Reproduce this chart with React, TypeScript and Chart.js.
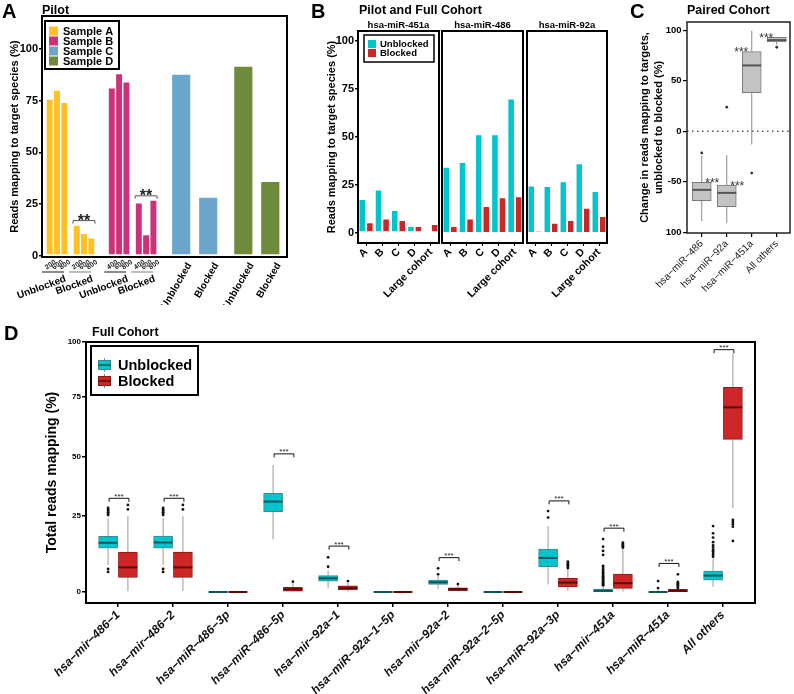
import React, { useEffect, useRef } from 'react';
import { Chart, registerables, LinearScale } from 'chart.js';

Chart.register(...registerables);

const FONT = "'Liberation Sans', Arial, Helvetica, sans-serif";
Chart.defaults.font.family = FONT;
Chart.defaults.color = '#000';

// ---------------- Panel A data (Pilot) ----------------
const pilotSamples = ['Sample A', 'Sample B', 'Sample C', 'Sample D'];
const pilotConditions = ['Unblocked', 'Blocked'];
const pilotDoseLabels = [['200', '600', '800'], ['400', '600', '800'], [], []];
const sampleAUnblocked = [75.8, 80.2, 74.2];
const sampleABlocked = [14.9, 10.8, 8.7];
const sampleBUnblocked = [81.3, 88.2, 84.2];
const sampleBBlocked = [25.6, 10.3, 26.9];
const sampleCUnblocked = [87.9];
const sampleCBlocked = [28.4];
const sampleDUnblocked = [91.8];
const sampleDBlocked = [36.0];
const pilotSignificance = ['**', '**', null, null];
const pilotBracketHeight = [17, 29, null, null];
const pilotTicks = [0, 25, 50, 75, 100];

// ---------------- Panel B data (Pilot and Full Cohort) ----------------
const cohortCategories = ['A', 'B', 'C', 'D', 'Large cohort'];
const cohortPanels = ['hsa-miR-451a', 'hsa-miR-486', 'hsa-miR-92a'];
const cohortSeries = ['Unblocked', 'Blocked'];
const unblocked451a = [17.7, 22.7, 12.0, 3.6, 1.2];
const blocked451a = [5.6, 7.6, 6.8, 3.6, 4.7];
const unblocked486 = [34.5, 37.0, 51.4, 51.4, 70.0];
const blocked486 = [3.6, 7.6, 14.1, 18.6, 19.1];
const unblocked92a = [24.8, 24.5, 27.0, 36.3, 21.9];
const blocked92a = [1.2, 5.4, 6.8, 13.2, 8.9];
const cohortTicks = [0, 25, 50, 75, 100];

// ---------------- Panel C data (Paired Cohort) ----------------
const pairedCategories = ['hsa\u2212miR\u2212486', 'hsa\u2212miR\u221292a', 'hsa\u2212miR\u2212451a', 'All others'];
const pairedLow = [-89, -90.6, -13.1, 85.5];
const pairedQ1 = [-68.8, -74.7, 38.1, 88.3];
const pairedMedian = [-58, -61, 65.1, 90.2];
const pairedQ3 = [-50.5, -53.2, 78.8, 92.9];
const pairedHigh = [-24, -23.8, 99.3, 93.2];
const pairedOutliers = [[-21.5], [23.8], [-41.4], [83.1]];
const pairedStarSide = [1, 1, -1, -1];
const pairedTicks = [-100, -50, 0, 50, 100];
const pairedTickLabels = ['100', '-50', '0', '50', '100'];

// ---------------- Panel D data (Full Cohort) ----------------
const fullCohortLabels = [
  'hsa\u2212mir\u2212486\u22121', 'hsa\u2212mir\u2212486\u22122', 'hsa\u2212miR\u2212486\u22123p', 'hsa\u2212miR\u2212486\u22125p',
  'hsa\u2212mir\u221292a\u22121', 'hsa\u2212miR\u221292a\u22121\u22125p', 'hsa\u2212mir\u221292a\u22122', 'hsa\u2212miR\u221292a\u22122\u22125p',
  'hsa\u2212miR\u221292a\u22123p', 'hsa\u2212mir\u2212451a', 'hsa\u2212miR\u2212451a', 'All others',
];
const unblockedLow = [8.9, 8.9, 0, 17.3, 1.4, 0, 1.0, 0, 2.5, 0, 0, 1.7];
const unblockedQ1 = [14.4, 14.4, 0, 26.8, 3.6, 0, 2.5, 0, 8.3, 0.1, 0, 3.9];
const unblockedMedian = [16.2, 16.3, 0, 31.1, 4.5, 0, 3.2, 0, 11.2, 0.4, 0, 5.4];
const unblockedQ3 = [18.3, 18.4, 0, 34.6, 5.4, 0, 3.9, 0, 14.1, 1.0, 0, 6.9];
const unblockedHigh = [24.2, 24.2, 0, 46.6, 7.0, 0, 5.2, 0, 21.7, 1.9, 0.8, 11.0];
const unblockedOutliers = [
  [25.4, 26.0, 26.6, 27.2, 27.8, 28.4, 7.6, 6.6],
  [25.4, 26.0, 26.6, 27.2, 27.8, 28.4, 7.6, 6.6],
  [],
  [],
  [8.3, 11.4],
  [],
  [5.8, 7.8],
  [],
  [24.5, 27.1],
  [2.2, 2.5, 2.8, 3.1, 3.4, 3.7, 4.0, 4.4, 4.8, 5.2, 5.6, 6.0, 6.5, 7.0, 7.6, 8.2, 8.6, 12.2, 13.5, 14.9, 17.4],
  [1.3, 3.6],
  [11.6, 12.2, 12.8, 13.4, 13.9, 14.6, 15.3, 16.4, 17.9, 19.3, 21.7],
];
const blockedLow = [0.3, 0.3, 0, 0.1, 0.2, 0, 0.2, 0, 0.4, 0.1, 0, 28.3];
const blockedQ1 = [4.8, 4.8, 0, 0.3, 0.7, 0, 0.4, 0, 1.7, 1.2, 0.1, 57.3];
const blockedMedian = [8.1, 8.1, 0, 0.9, 1.3, 0, 1.0, 0, 3.1, 2.9, 0.4, 70.6];
const blockedQ3 = [13.1, 13.1, 0, 1.5, 2.0, 0, 1.4, 0, 4.5, 5.9, 0.9, 79.3];
const blockedHigh = [25.0, 25.0, 0, 2.9, 3.0, 0, 2.2, 0, 7.6, 14.3, 1.1, 94.9];
const blockedOutliers = [
  [27.8, 29.7], [27.8, 29.7], [], [3.4], [3.6], [], [2.6], [],
  [7.9, 8.3, 8.7, 9.1, 9.5, 10.0],
  [14.6, 15.0, 15.4, 15.8, 16.2],
  [1.3, 1.7, 2.1, 2.5, 2.9, 3.3, 5.8],
  [16.8, 21.5, 22.3, 23.0, 23.7],
];
const fullCohortBracket = [32.5, 32.5, null, 51.3, 15.1, null, 11.3, null, 31.4, 21.0, 9.4, 96.5];
const fullCohortTicks = [0, 25, 50, 75, 100];
const fullCohortSeries = ['Unblocked', 'Blocked'];

// ---------------- Styles ----------------
const pilotColors = ['#FFC125', '#CD3278', '#6CA6CD', '#6E8B3D'];
const CYAN = '#00C5CD';
const RED = '#CD2626';

// Piecewise vertical axis for panel D (tick spacing of the reference axis)
const FULL_KNOTS = [[-3.6, 0], [0, 0.04215], [25, 0.3333], [50, 0.5594], [75, 0.7904], [100, 1]];
function knotDecimal(v: number) {
  const k = FULL_KNOTS;
  let i = 0;
  while (i < k.length - 2 && v > k[i + 1][0]) i++;
  const [v0, d0] = k[i];
  const [v1, d1] = k[i + 1];
  return d0 + ((v - v0) / (v1 - v0)) * (d1 - d0);
}
function knotValue(d: number) {
  const k = FULL_KNOTS;
  let i = 0;
  while (i < k.length - 2 && d > k[i + 1][1]) i++;
  const [v0, d0] = k[i];
  const [v1, d1] = k[i + 1];
  return v0 + ((d - d0) / (d1 - d0)) * (v1 - v0);
}
class PiecewiseScale extends LinearScale {
  static id = 'piecewise';
  static defaults = LinearScale.defaults;
  getPixelForValue(value: any) {
    if (value === null || value === undefined || Number.isNaN(value)) return NaN;
    return this.getPixelForDecimal(knotDecimal(value));
  }
  getValueForPixel(pixel: number) {
    return knotValue(this.getDecimalForPixel(pixel));
  }
}
Chart.register(PiecewiseScale as any);

const f = (size: number, weight = 'bold', style = 'normal') => `${style} ${weight} ${size}px ${FONT}`;

function yAxisGrid(len: number, width = 1.5) {
  return { display: true, drawOnChartArea: false, drawTicks: true, tickLength: len, color: '#000', tickColor: '#000', lineWidth: width, tickWidth: width };
}

function line(ctx: any, x1: number, y1: number, x2: number, y2: number) {
  ctx.beginPath();
  ctx.moveTo(x1, y1);
  ctx.lineTo(x2, y2);
  ctx.stroke();
}

// ---------------- Panel A ----------------
const pilotValues = [
  [sampleAUnblocked, sampleABlocked],
  [sampleBUnblocked, sampleBBlocked],
  [sampleCUnblocked, sampleCBlocked],
  [sampleDUnblocked, sampleDBlocked],
];
// layout of the pilot bars along a hidden pixel-unit axis
function pilotX(s: number, c: number, k: number, n: number) {
  return 15 + s * 62.1 + c * 27 + (k - (n - 1) / 2) * 7.3;
}

const pilotDecor = {
  id: 'pilotDecor',
  afterDraw(chart: any) {
    const { ctx, chartArea: ca, scales } = chart;
    const xs = scales.x;
    const ys = scales.y;
    ctx.save();
    ctx.lineWidth = 2;
    ctx.strokeStyle = '#000';
    ctx.strokeRect(ca.left, ca.top, ca.right - ca.left, ca.bottom - ca.top);

    pilotSamples.forEach((_, s) => {
      pilotConditions.forEach((cond, c) => {
        const vals = pilotValues[s][c];
        const px = vals.map((_, k) => xs.getPixelForValue(pilotX(s, c, k, vals.length)));
        ctx.fillStyle = '#000';
        if (vals.length > 1) {
          ctx.font = f(7);
          ctx.fillStyle = '#222';
          px.forEach((p, k) => {
            ctx.save();
            ctx.translate(p + 3.5, ca.bottom + 1.5);
            ctx.rotate((-35 * Math.PI) / 180);
            ctx.textAlign = 'right';
            ctx.textBaseline = 'top';
            ctx.fillText(pilotDoseLabels[s][k], 0, 0);
            ctx.restore();
          });
          const l = px[0] - 3.65 - 4;
          const r = px[px.length - 1] + 3.65 - 4;
          ctx.strokeStyle = c === 0 ? '#666' : '#aaa';
          ctx.lineWidth = 1.5;
          line(ctx, l, ca.bottom + 15, r, ca.bottom + 15);
          ctx.save();
          ctx.translate(r, ca.bottom + 17);
          ctx.rotate((-20 * Math.PI) / 180);
          ctx.font = f(10);
          ctx.fillStyle = '#000';
          ctx.textAlign = 'right';
          ctx.textBaseline = 'top';
          ctx.fillText(cond, 0, 0);
          ctx.restore();
        } else {
          ctx.save();
          ctx.translate(px[0] + 4, ca.bottom + 4);
          ctx.rotate((-60 * Math.PI) / 180);
          ctx.font = f(10);
          ctx.fillStyle = '#000';
          ctx.textAlign = 'right';
          ctx.textBaseline = 'top';
          ctx.fillText(cond, 0, 0);
          ctx.restore();
        }
      });
      // significance bracket over the blocked triplet
      const h = pilotBracketHeight[s];
      if (h !== null) {
        const vals = pilotValues[s][1];
        const l = xs.getPixelForValue(pilotX(s, 1, 0, vals.length)) - 3.65;
        const r = xs.getPixelForValue(pilotX(s, 1, vals.length - 1, vals.length)) + 3.65;
        const y = ys.getPixelForValue(h);
        ctx.strokeStyle = '#555';
        ctx.lineWidth = 1;
        ctx.beginPath();
        ctx.moveTo(l, y + 3);
        ctx.lineTo(l, y);
        ctx.lineTo(r, y);
        ctx.lineTo(r, y + 3);
        ctx.stroke();
        ctx.font = f(16);
        ctx.fillStyle = '#222';
        ctx.textAlign = 'center';
        ctx.textBaseline = 'alphabetic';
        ctx.fillText(pilotSignificance[s] as string, (l + r) / 2, y + 5);
      }
    });

    // legend
    const lx = ca.left + 3;
    const ly = ca.top + 5;
    ctx.fillStyle = '#fff';
    ctx.fillRect(lx, ly, 74, 48);
    ctx.lineWidth = 2;
    ctx.strokeStyle = '#000';
    ctx.strokeRect(lx, ly, 74, 48);
    chart.data.datasets.forEach((ds: any, i: number) => {
      const cy = ly + 10 + i * 10;
      ctx.fillStyle = ds.backgroundColor;
      ctx.fillRect(lx + 4, cy - 4.5, 9, 9);
      ctx.fillStyle = '#000';
      ctx.font = f(11);
      ctx.textAlign = 'left';
      ctx.textBaseline = 'middle';
      ctx.fillText(ds.label, lx + 18, cy + 0.5);
    });
    ctx.restore();
  },
};

function configA() {
  return {
    type: 'bar',
    data: {
      datasets: pilotSamples.map((label, s) => ({
        label,
        data: pilotValues[s].flatMap((vals, c) => vals.map((v, k) => ({ x: pilotX(s, c, k, vals.length), y: v }))),
        backgroundColor: pilotColors[s],
        borderColor: 'rgba(255,255,255,0.6)',
        borderWidth: 1,
        borderSkipped: false,
        barThickness: pilotValues[s][0].length > 1 ? 7.3 : 19.5,
        stack: 'pilot',
      })),
    },
    options: {
      animation: false,
      responsive: false,
      maintainAspectRatio: false,
      layout: { padding: { left: 0, top: 16, right: 13, bottom: 48 } },
      plugins: { legend: { display: false }, tooltip: { enabled: false } },
      scales: {
        x: { type: 'linear', min: 0, max: 245, display: false, offset: false },
        y: {
          type: 'linear',
          min: -0.6,
          max: 116,
          stacked: false,
          afterBuildTicks: (s: any) => { s.ticks = pilotTicks.map((value) => ({ value })); },
          ticks: { font: { size: 11, weight: 'bold' }, color: '#000', padding: 1 },
          grid: yAxisGrid(3),
          border: { display: false },
          title: { display: true, text: 'Reads mapping to target species (%)', color: '#000', font: { size: 11, weight: 'bold' }, padding: { top: 8.4, bottom: 0 } },
          afterFit: (s: any) => { s.width = 42; },
        },
      },
    },
    plugins: [pilotDecor],
  };
}

// ---------------- Panel B ----------------
const cohortUnblocked = [unblocked451a, unblocked486, unblocked92a];
const cohortBlocked = [blocked451a, blocked486, blocked92a];

function cohortDecor(p: number) {
  return {
    id: 'cohortDecor' + p,
    afterDraw(chart: any) {
      const { ctx, chartArea: ca } = chart;
      ctx.save();
      ctx.lineWidth = 2;
      ctx.strokeStyle = '#000';
      ctx.strokeRect(ca.left, ca.top, ca.right - ca.left, ca.bottom - ca.top);
      ctx.font = f(9.5);
      ctx.fillStyle = '#000';
      ctx.textAlign = 'center';
      ctx.textBaseline = 'middle';
      ctx.fillText(cohortPanels[p], (ca.left + ca.right) / 2, ca.top - 6);
      if (p === 0) {
        const lx = ca.left + 6;
        const ly = ca.top + 4;
        ctx.fillStyle = '#fff';
        ctx.fillRect(lx, ly, 70, 27);
        ctx.lineWidth = 1.5;
        ctx.strokeRect(lx, ly, 70, 27);
        chart.data.datasets.forEach((ds: any, i: number) => {
          const cy = ly + 9 + i * 9;
          ctx.fillStyle = ds.backgroundColor;
          ctx.fillRect(lx + 4, cy - 4, 8, 8);
          ctx.fillStyle = '#000';
          ctx.font = f(9.5);
          ctx.textAlign = 'left';
          ctx.textBaseline = 'middle';
          ctx.fillText(ds.label, lx + 16, cy + 0.5);
        });
      }
      ctx.restore();
    },
  };
}

function configB(p: number) {
  const first = p === 0;
  return {
    type: 'bar',
    data: {
      labels: cohortCategories,
      datasets: [
        { label: cohortSeries[0], data: cohortUnblocked[p], backgroundColor: CYAN, borderColor: 'rgba(255,255,255,0.5)', borderWidth: 1, borderSkipped: false, categoryPercentage: 0.93, barPercentage: 1 },
        { label: cohortSeries[1], data: cohortBlocked[p], backgroundColor: RED, borderColor: 'rgba(255,255,255,0.5)', borderWidth: 1, borderSkipped: false, categoryPercentage: 0.93, barPercentage: 1 },
      ],
    },
    options: {
      animation: false,
      responsive: false,
      maintainAspectRatio: false,
      layout: { padding: { left: first ? 0 : p === 1 ? 2 : 3, top: 31, right: 3, bottom: 0 } },
      plugins: { legend: { display: false }, tooltip: { enabled: false } },
      scales: {
        x: {
          type: 'category',
          offset: true,
          grid: { display: true, offset: false, drawOnChartArea: false, drawTicks: true, tickLength: 3, color: '#000', tickColor: '#000', lineWidth: 1 },
          border: { display: false },
          ticks: { font: { size: 10.5, weight: 'bold' }, color: '#000', minRotation: 45, maxRotation: 45, autoSkip: false, padding: 0 },
          afterFit: (s: any) => { s.height = 57; },
        },
        y: {
          display: first,
          type: 'linear',
          min: -5.2,
          max: 105.2,
          afterBuildTicks: (s: any) => { s.ticks = cohortTicks.map((value) => ({ value })); },
          ticks: { font: { size: 11, weight: 'bold' }, color: '#000', padding: 1 },
          grid: yAxisGrid(3),
          border: { display: false },
          title: { display: true, text: 'Reads mapping to target species (%)', color: '#000', font: { size: 11, weight: 'bold' }, padding: { top: 25.4, bottom: 0 } },
          afterFit: (s: any) => { s.width = first ? 58 : 0; },
        },
      },
    },
    plugins: [cohortDecor(p)],
  };
}

// ---------------- Panel C ----------------
const pairedDecor = {
  id: 'pairedDecor',
  beforeDatasetsDraw(chart: any) {
    const { ctx, chartArea: ca, scales } = chart;
    const xs = scales.x;
    const ys = scales.y;
    ctx.save();
    ctx.strokeStyle = '#555';
    ctx.lineWidth = 1.5;
    ctx.setLineDash([1.5, 3.5]);
    const y0 = ys.getPixelForValue(0);
    line(ctx, ca.left, y0, ca.right, y0);
    ctx.setLineDash([]);
    ctx.strokeStyle = '#8a8a8a';
    ctx.lineWidth = 1;
    pairedCategories.forEach((_, i) => {
      const cx = xs.getPixelForValue(i + 1);
      line(ctx, cx, ys.getPixelForValue(pairedQ3[i]), cx, ys.getPixelForValue(pairedHigh[i]));
      line(ctx, cx, ys.getPixelForValue(pairedQ1[i]), cx, ys.getPixelForValue(pairedLow[i]));
    });
    ctx.restore();
  },
  afterDatasetsDraw(chart: any) {
    const { ctx, scales } = chart;
    const xs = scales.x;
    const ys = scales.y;
    ctx.save();
    ctx.strokeStyle = '#555';
    ctx.lineWidth = 2;
    pairedCategories.forEach((_, i) => {
      const cx = xs.getPixelForValue(i + 1);
      const y = ys.getPixelForValue(pairedMedian[i]);
      line(ctx, cx - 9.5, y, cx + 9.5, y);
    });
    ctx.restore();
  },
  afterDraw(chart: any) {
    const { ctx, chartArea: ca, scales } = chart;
    const xs = scales.x;
    const ys = scales.y;
    ctx.save();
    ctx.lineWidth = 1.5;
    ctx.strokeStyle = '#222';
    ctx.strokeRect(ca.left, ca.top, ca.right - ca.left, ca.bottom - ca.top);
    ctx.font = f(12, 'normal');
    ctx.fillStyle = '#333';
    ctx.textAlign = 'center';
    ctx.textBaseline = 'alphabetic';
    pairedCategories.forEach((_, i) => {
      const x = xs.getPixelForValue(i + 1 + pairedStarSide[i] * 0.42);
      const y = ys.getPixelForValue(pairedQ3[i] + 2.4);
      ctx.fillText('***', x, y + 7);
    });
    ctx.restore();
  },
};

function configC() {
  return {
    type: 'bar',
    data: {
      datasets: [
        {
          type: 'bar',
          label: 'Change',
          data: pairedCategories.map((_, i) => ({ x: i + 1, y: [pairedQ1[i], pairedQ3[i]] })),
          backgroundColor: '#C3C3C3',
          borderColor: '#7A7A7A',
          borderWidth: 1,
          borderSkipped: false,
          grouped: false,
          barThickness: 19,
          maxBarThickness: 19,
          barPercentage: 1,
          categoryPercentage: 1,
        },
        {
          type: 'scatter',
          label: 'Outliers',
          data: pairedOutliers.flatMap((arr, i) => arr.map((v) => ({ x: i + 1, y: v }))),
          pointRadius: 1.4,
          pointBackgroundColor: '#333',
          pointBorderWidth: 0,
        },
      ],
    },
    options: {
      animation: false,
      responsive: false,
      maintainAspectRatio: false,
      layout: { padding: { left: 0, top: 22, right: 2, bottom: 0 } },
      plugins: { legend: { display: false }, tooltip: { enabled: false } },
      scales: {
        x: {
          type: 'linear',
          min: 0.41,
          max: 4.53,
          offset: false,
          afterBuildTicks: (s: any) => { s.ticks = pairedCategories.map((_, i) => ({ value: i + 1 })); },
          ticks: { callback: (v: number) => pairedCategories[Math.round(v) - 1], font: { size: 10 }, color: '#222', minRotation: 45, maxRotation: 45, autoSkip: false, padding: 1 },
          grid: { display: true, offset: false, drawOnChartArea: false, drawTicks: true, tickLength: 4, color: '#000', tickColor: '#000', lineWidth: 1.2 },
          border: { display: false },
          afterFit: (s: any) => { s.height = 67; },
        },
        y: {
          type: 'linear',
          min: -100.7,
          max: 108.1,
          afterBuildTicks: (s: any) => { s.ticks = pairedTicks.map((value) => ({ value })); },
          ticks: { callback: (_v: number, i: number) => pairedTickLabels[i], font: { size: 9.5, weight: 'bold' }, color: '#000', padding: 1.5 },
          grid: yAxisGrid(4, 1.2),
          border: { display: false },
          title: {
            display: true,
            text: ['Change in reads mapping to targets,', 'unblocked to blocked (%)'],
            color: '#000',
            font: { size: 11, weight: 'bold', lineHeight: 1.3 },
            padding: { top: 25.85, bottom: 0 },
          },
          afterFit: (s: any) => { s.width = 75; },
        },
      },
    },
    plugins: [pairedDecor],
  };
}

// ---------------- Panel D ----------------
const DODGE = 0.18;
const fullStats = [
  { low: unblockedLow, q1: unblockedQ1, med: unblockedMedian, q3: unblockedQ3, high: unblockedHigh, out: unblockedOutliers, shift: -DODGE, fill: CYAN, border: '#3A8A8D', median: '#0B5558' },
  { low: blockedLow, q1: blockedQ1, med: blockedMedian, q3: blockedQ3, high: blockedHigh, out: blockedOutliers, shift: DODGE, fill: RED, border: '#8B1A1A', median: '#5C0A0A' },
];

const fullDecor = {
  id: 'fullDecor',
  beforeDatasetsDraw(chart: any) {
    const { ctx, scales } = chart;
    const xs = scales.x;
    const ys = scales.y;
    ctx.save();
    ctx.strokeStyle = '#9a9a9a';
    ctx.lineWidth = 1;
    fullStats.forEach((st) => {
      fullCohortLabels.forEach((_, i) => {
        const cx = xs.getPixelForValue(i + 1 + st.shift);
        if (st.high[i] > st.q3[i]) line(ctx, cx, ys.getPixelForValue(st.q3[i]), cx, ys.getPixelForValue(st.high[i]));
        if (st.low[i] < st.q1[i]) line(ctx, cx, ys.getPixelForValue(st.q1[i]), cx, ys.getPixelForValue(st.low[i]));
      });
    });
    ctx.restore();
  },
  afterDatasetsDraw(chart: any) {
    const { ctx, scales } = chart;
    const xs = scales.x;
    const ys = scales.y;
    ctx.save();
    ctx.lineWidth = 2;
    fullStats.forEach((st) => {
      ctx.strokeStyle = st.median;
      fullCohortLabels.forEach((_, i) => {
        const cx = xs.getPixelForValue(i + 1 + st.shift);
        const y = ys.getPixelForValue(st.med[i]);
        line(ctx, cx - 9.5, y, cx + 9.5, y);
      });
    });
    ctx.restore();
  },
  afterDraw(chart: any) {
    const { ctx, chartArea: ca, scales } = chart;
    const xs = scales.x;
    const ys = scales.y;
    ctx.save();
    ctx.lineWidth = 2;
    ctx.strokeStyle = '#000';
    ctx.strokeRect(ca.left, ca.top, ca.right - ca.left, ca.bottom - ca.top);
    // brackets
    fullCohortBracket.forEach((h, i) => {
      if (h === null) return;
      const l = xs.getPixelForValue(i + 1 - DODGE) + 1;
      const r = xs.getPixelForValue(i + 1 + DODGE) + 1;
      const y = ys.getPixelForValue(h);
      ctx.strokeStyle = '#111';
      ctx.lineWidth = 1;
      ctx.beginPath();
      ctx.moveTo(l, y + 3.5);
      ctx.lineTo(l, y);
      ctx.lineTo(r, y);
      ctx.lineTo(r, y + 3.5);
      ctx.stroke();
      ctx.font = f(8, 'normal');
      ctx.fillStyle = '#222';
      ctx.textAlign = 'center';
      ctx.textBaseline = 'alphabetic';
      ctx.fillText('***', (l + r) / 2, y + 0.5);
    });
    // legend
    const lx = ca.left + 5;
    const ly = ca.top + 4;
    ctx.fillStyle = '#fff';
    ctx.fillRect(lx, ly, 107, 49);
    ctx.lineWidth = 2;
    ctx.strokeStyle = '#000';
    ctx.strokeRect(lx, ly, 107, 49);
    fullStats.forEach((st, i) => {
      const cy = ly + 19 + i * 16;
      const x0 = lx + 7;
      ctx.strokeStyle = '#888';
      ctx.lineWidth = 1;
      line(ctx, x0 + 6.5, cy - 7, x0 + 6.5, cy + 7);
      ctx.fillStyle = st.fill;
      ctx.fillRect(x0, cy - 5, 13, 10);
      ctx.strokeStyle = st.border;
      ctx.strokeRect(x0 + 0.5, cy - 4.5, 12, 9);
      ctx.strokeStyle = st.median;
      ctx.lineWidth = 1.5;
      line(ctx, x0, cy, x0 + 13, cy);
      ctx.fillStyle = '#000';
      ctx.font = f(14.5);
      ctx.textAlign = 'left';
      ctx.textBaseline = 'middle';
      ctx.fillText(fullCohortSeries[i], lx + 27, cy + 0.5);
    });
    ctx.restore();
  },
};

function configD() {
  const boxSets = fullStats.map((st, s) => ({
    type: 'bar',
    label: fullCohortSeries[s],
    data: fullCohortLabels.map((_, i) => ({ x: i + 1 + st.shift, y: [st.q1[i], st.q3[i]] })),
    backgroundColor: st.fill,
    borderColor: st.border,
    borderWidth: 1,
    borderSkipped: false,
    grouped: false,
    barThickness: 19,
    maxBarThickness: 19,
    barPercentage: 1,
    categoryPercentage: 1,
  }));
  const outlierSets = fullStats.map((st, s) => ({
    type: 'scatter',
    label: fullCohortSeries[s] + ' outliers',
    data: st.out.flatMap((arr, i) => arr.map((v) => ({ x: i + 1 + st.shift, y: v }))),
    pointRadius: 1.4,
    pointBackgroundColor: '#111',
    pointBorderWidth: 0,
  }));
  return {
    type: 'bar',
    data: { datasets: [...boxSets, ...outlierSets] },
    options: {
      animation: false,
      responsive: false,
      maintainAspectRatio: false,
      layout: { padding: { left: 0, top: 42, right: 39, bottom: 0 } },
      plugins: { legend: { display: false }, tooltip: { enabled: false } },
      scales: {
        x: {
          type: 'linear',
          min: 0.418,
          max: 12.582,
          offset: false,
          afterBuildTicks: (s: any) => { s.ticks = fullCohortLabels.map((_, i) => ({ value: i + 1 })); },
          ticks: { callback: (v: number) => fullCohortLabels[Math.round(v) - 1], font: { size: 12, weight: 'bold', style: 'italic' }, color: '#111', minRotation: 45, maxRotation: 45, autoSkip: false, padding: 1 },
          grid: { display: true, offset: false, drawOnChartArea: false, drawTicks: true, tickLength: 4, color: '#000', tickColor: '#000', lineWidth: 1.5 },
          border: { display: false },
          afterFit: (s: any) => { s.height = 91; },
        },
        y: {
          type: 'piecewise',
          min: -3.6,
          max: 100,
          afterBuildTicks: (s: any) => { s.ticks = fullCohortTicks.map((value) => ({ value })); },
          ticks: { font: { size: 8, weight: 'bold' }, color: '#000', padding: 1 },
          grid: yAxisGrid(4),
          border: { display: false },
          title: { display: true, text: 'Total reads mapping (%)', color: '#000', font: { size: 14, weight: 'bold' }, padding: { top: 43.6, bottom: 0 } },
          afterFit: (s: any) => { s.width = 86; },
        },
      },
    },
    plugins: [fullDecor],
  };
}

// ---------------- Components ----------------
function ChartCanvas({ left, top, width, height, config }: any) {
  const ref = useRef<HTMLCanvasElement | null>(null);
  useEffect(() => {
    const chart = new Chart(ref.current as HTMLCanvasElement, config() as any);
    return () => chart.destroy();
  }, []);
  return <canvas ref={ref} width={width} height={height} style={{ position: 'absolute', left, top, width, height }} />;
}

function Txt({ x, baseline, size, children }: any) {
  return (
    <div
      style={{
        position: 'absolute',
        left: x,
        top: baseline - 0.8465 * size,
        fontSize: size,
        lineHeight: `${size}px`,
        fontWeight: 700,
        fontFamily: FONT,
        whiteSpace: 'nowrap',
        color: '#000',
      }}
    >
      {children}
    </div>
  );
}

export default function App() {
  return (
    <div style={{ position: 'absolute', left: 0, top: 0, width: 794, height: 694, background: '#fff', overflow: 'hidden' }}>
      <ChartCanvas left={0} top={0} width={300} height={305} config={configA} />
      <ChartCanvas left={300} top={0} width={142} height={300} config={() => configB(0)} />
      <ChartCanvas left={440} top={0} width={86} height={300} config={() => configB(1)} />
      <ChartCanvas left={524} top={0} width={86} height={300} config={() => configB(2)} />
      <ChartCanvas left={612} top={0} width={182} height={300} config={configC} />
      <ChartCanvas left={0} top={300} width={794} height={394} config={configD} />
      <Txt x={2} baseline={18} size={20}>A</Txt>
      <Txt x={42} baseline={15} size={12.5}>Pilot</Txt>
      <Txt x={311} baseline={17.5} size={20}>B</Txt>
      <Txt x={359} baseline={15} size={12.5}>Pilot and Full Cohort</Txt>
      <Txt x={630} baseline={18} size={20}>C</Txt>
      <Txt x={687} baseline={15} size={12.5}>Paired Cohort</Txt>
      <Txt x={4} baseline={340} size={20}>D</Txt>
      <Txt x={92} baseline={337} size={12.5}>Full Cohort</Txt>
    </div>
  );
}
